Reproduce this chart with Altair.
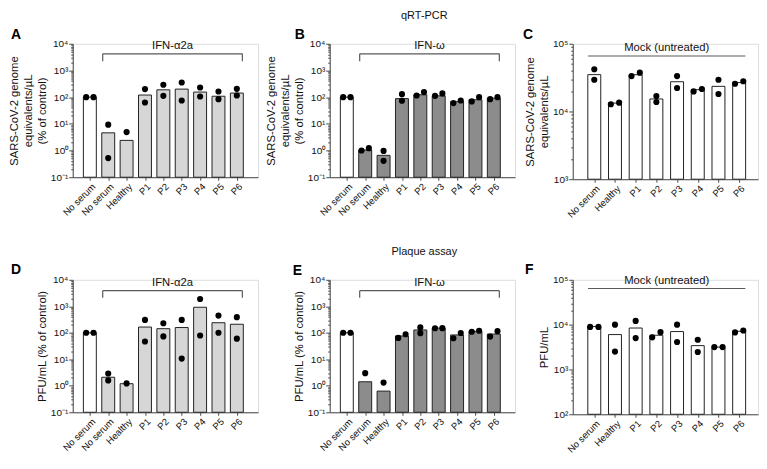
import json
import altair as alt
import pandas as pd

FONT = "Liberation Sans"
AXIS_COLOR = "#4a4a4a"
LIGHT = "#d6d6d6"
DARK = "#8c8c8c"

CATS_IFN = ["No serum", "No serum", "Healthy", "P1", "P2", "P3", "P4", "P5", "P6"]
CATS_MOCK = ["No serum", "Healthy", "P1", "P2", "P3", "P4", "P5", "P6"]
GROUPS_A2A = ["none"] + ["a2a"] * 8
GROUPS_W = ["none"] + ["w"] * 8
GROUPS_MOCK = ["none"] * 8

# A: qRT-PCR, IFN-a2a
A_BARS = [100, 4.6, 2.4, 120, 188, 200, 155, 108, 142]
A_DOTS = [[100, 100], [9.3, 0.52], [4.9], [200, 63], [290, 112], [355, 75], [230, 106], [163, 84], [205, 115]]
A_SIDE = [[-1, 1], [0, 0], [0], [0, 0], [0, 0], [0, 0], [0, 0], [0, 0], [0, 0]]
# B: qRT-PCR, IFN-w
B_BARS = [100, 1.05, 0.66, 88, 123, 112, 68, 80, 92]
B_DOTS = [[100, 100], [1.0, 1.23], [0.97, 0.41], [129, 73], [115, 155], [112, 138], [60, 75], [69, 100], [84, 100]]
B_SIDE = [[-1, 1], [-1, 1], [0, 0], [0, 0], [-1, 1], [-1, 1], [-1, 1], [-1, 1], [-1, 1]]
# C: qRT-PCR, mock
C_BARS = [35000, 13300, 34900, 15300, 27500, 21000, 23500, 26700]
C_DOTS = [[42000, 29400], [12800, 13500], [33300, 37400], [16900, 13800], [33300, 22200], [19800, 21500], [29400, 18100], [25700, 27900]]
C_SIDE = [[0, 0], [-1, 1], [-1, 1], [0, 0], [0, 0], [-1, 1], [0, 0], [-1, 1]]
# D: plaque, IFN-a2a
D_BARS = [100, 2.1, 1.2, 165, 143, 158, 920, 240, 210]
D_DOTS = [[100, 100], [2.9, 1.6], [1.23], [306, 47], [230, 73], [306, 10.6], [1880, 79], [447, 100], [390, 60]]
D_SIDE = [[-1, 1], [0, 0], [0], [0, 0], [0, 0], [0, 0], [0, 0], [0, 0], [0, 0]]
# E: plaque, IFN-w
E_BARS = [100, 1.42, 0.63, 76, 128, 150, 83, 113, 90]
E_DOTS = [[100, 100], [3.0], [1.32], [64, 88], [160, 97], [148, 150], [62, 98], [110, 120], [72, 115]]
E_SIDE = [[-1, 1], [0], [0], [-1, 1], [0, 0], [-1, 1], [-1, 1], [-1, 1], [-1, 1]]
# F: plaque, mock
F_BARS = [9100, 6000, 8400, 5800, 7000, 3400, 3150, 7100]
F_DOTS = [[8900, 8900], [10000, 2500], [12100, 5000], [5200, 6800], [10000, 4100], [4600, 2450], [3150, 3150], [6700, 7400]]
F_SIDE = [[-1, 1], [0, 0], [0, 0], [-1, 1], [0, 0], [0, 0], [-1, 1], [-1, 1]]

TITLE_PCR = ["SARS-CoV-2 genome", "equivalents/\u00b5L", "(% of control)"]
TITLE_PCR_MOCK = ["SARS-CoV-2 genome", "equivalents/\u00b5L"]
TITLE_PFU = "PFU/mL (% of control)"
TITLE_PFU_MOCK = "PFU/mL"

# bracket: label, start, end, top value, end-tick value
BR_A = ("IFN-\u03b12a", 0.7, 8.3, 4200, 2200)
BR_B = ("IFN-\u03c9", 0.7, 8.3, 4200, 2200)
BR_C = ("Mock (untreated)", -0.3, 7.3, 66000, None)
BR_D = ("IFN-\u03b12a", 0.7, 8.3, 3900, 2100)
BR_E = ("IFN-\u03c9", 0.7, 8.3, 3900, 2100)
BR_F = ("Mock (untreated)", -0.3, 7.3, 64000, None)

EXP = "round(log(datum.value) / LN10)"
MAJOR = f"abs(log(datum.value) / LN10 - {EXP}) < 0.001"
SUP = "'\u2070\u00b9\u00b2\u00b3\u2074\u2075\u2076\u2077\u2078\u2079'"
LABEL = (f"{MAJOR} ? ({EXP} < 0 ? '10\u207b' + substring({SUP}, -{EXP}, -{EXP} + 1)"
         f" : '10' + substring({SUP}, {EXP}, {EXP} + 1)) : ''")

W = 186
COLOR_SCALE = alt.Scale(domain=["none", "a2a", "w"], range=["white", LIGHT, DARK])


def y_ticks(lo, hi):
    vals = []
    for e in range(lo, hi):
        for m in range(1, 10):
            vals.append(round(m * 10.0 ** e, 6))
    vals.append(10.0 ** hi)
    return vals


def panel(letter, letter_dx, letter_dy, cats, groups, bars, dots, sides,
          y_exp, ytitle, bracket, height, x_dom, header=None):
    n = len(cats)
    bar_df = pd.DataFrame({"idx": list(range(n)), "group": groups, "value": bars})
    rows = []
    for i, (vals, sds) in enumerate(zip(dots, sides)):
        for v, s in zip(vals, sds):
            rows.append({"idx": i, "side": s, "value": v})
    dot_df = pd.DataFrame(rows)
    lo, hi = y_exp
    yscale = alt.Scale(type="log", domain=[10.0 ** lo, 10.0 ** hi], nice=False)
    xscale = alt.Scale(domain=x_dom, nice=False, zero=False)
    xaxis = alt.Axis(values=list(range(n)), labelExpr=f"{json.dumps(cats)}[datum.value]",
                     labelAngle=315, labelAlign="right", labelBaseline="top",
                     labelFontSize=9.5, labelColor="#111", tickSize=3,
                     tickColor=AXIS_COLOR, domainColor=AXIS_COLOR, grid=False, title=None,
                     labelOverlap=False, labelPadding=1)
    yaxis = alt.Axis(values=y_ticks(lo, hi), labelExpr=LABEL, labelOverlap=False,
                     tickSize={"condition": {"test": MAJOR, "value": 4}, "value": 2},
                     tickColor=AXIS_COLOR, domainColor=AXIS_COLOR, grid=False,
                     labelFontSize=10, labelColor="#111", labelPadding=1,
                     title=ytitle, titleFontSize=11.3, titleFontWeight="normal",
                     titleColor="#111", titlePadding=3, titleLineHeight=14)

    def X(field):
        return alt.X(field, scale=xscale, axis=xaxis)

    def Y(field):
        return alt.Y(field, scale=yscale, axis=yaxis)

    bars_layer = alt.Chart(bar_df).mark_bar(width=13, stroke="#222", strokeWidth=1).encode(
        x=X("idx:Q"),
        y=Y("value:Q"),
        y2=alt.datum(10.0 ** lo),
        color=alt.Color("group:N", scale=COLOR_SCALE, legend=None),
    )
    dots_layer = alt.Chart(dot_df).transform_calculate(
        xd="datum.idx + datum.side * 0.2"
    ).mark_circle(size=38, color="black", opacity=1).encode(
        x=X("xd:Q"),
        y=Y("value:Q"),
    )
    label, bs, be, by, by2 = bracket
    segs = [{"x": bs, "x2": be, "y": by, "y2": by}]
    if by2 is not None:
        segs += [{"x": bs, "x2": bs, "y": by, "y2": by2}, {"x": be, "x2": be, "y": by, "y2": by2}]
    rule_layer = alt.Chart(pd.DataFrame(segs)).mark_rule(color="#5a5a5a", strokeWidth=1.2).encode(
        x=X("x:Q"), x2="x2:Q",
        y=Y("y:Q"), y2="y2:Q",
    )
    text_layer = alt.Chart(pd.DataFrame({"x": [(bs + be) / 2], "y": [by], "t": [label]})).mark_text(
        baseline="bottom", dy=-3, fontSize=11.3, color="#111"
    ).encode(x=X("x:Q"), y=Y("y:Q"), text="t:N")
    letter_layer = alt.Chart(pd.DataFrame({"t": [letter]})).mark_text(
        align="left", baseline="alphabetic", fontSize=14, fontWeight="bold", color="black"
    ).encode(x=alt.value(letter_dx), y=alt.value(letter_dy), text="t:N")
    layers = [bars_layer, dots_layer, rule_layer, text_layer, letter_layer]
    if header is not None:
        layers.append(alt.Chart(pd.DataFrame({"t": [header]})).mark_text(
            align="center", baseline="alphabetic", fontSize=11, color="#111"
        ).encode(x=alt.value(W / 2 + 2), y=alt.value(-25), text="t:N"))
    return alt.layer(*layers).properties(width=W, height=height)


XD_IFN = [-0.66, 8.88]
XD_MOCK = [-0.8, 7.67]

pA = panel("A", -62, -5, CATS_IFN, GROUPS_A2A, A_BARS, A_DOTS, A_SIDE, (-1, 4), TITLE_PCR, BR_A, 134, XD_IFN)
pB = panel("B", -35, -5, CATS_IFN, GROUPS_W, B_BARS, B_DOTS, B_SIDE, (-1, 4), TITLE_PCR, BR_B, 134, XD_IFN, header="qRT-PCR")
pC = panel("C", -50, -5, CATS_MOCK, GROUPS_MOCK, C_BARS, C_DOTS, C_SIDE, (3, 5), TITLE_PCR_MOCK, BR_C, 136, XD_MOCK)
pD = panel("D", -62, -6, CATS_IFN, GROUPS_A2A, D_BARS, D_DOTS, D_SIDE, (-1, 4), TITLE_PFU, BR_D, 133, XD_IFN)
pE = panel("E", -37, -5, CATS_IFN, GROUPS_W, E_BARS, E_DOTS, E_SIDE, (-1, 4), TITLE_PFU, BR_E, 133, XD_IFN, header="Plaque assay")
pF = panel("F", -48, -6, CATS_MOCK, GROUPS_MOCK, F_BARS, F_DOTS, F_SIDE, (2, 5), TITLE_PFU_MOCK, BR_F, 135, XD_MOCK)

chart = alt.concat(pA, pB, pC, pD, pE, pF, columns=3, spacing={"row": 25, "column": 6}).properties(
    padding={"left": 0, "top": 0, "right": 0, "bottom": 0}
).configure_view(stroke=None).configure_axis(
    labelFont=FONT, titleFont=FONT
).configure_text(font=FONT).configure(font=FONT)

chart.save("out.html", embed_options={"renderer": "svg", "actions": False})
